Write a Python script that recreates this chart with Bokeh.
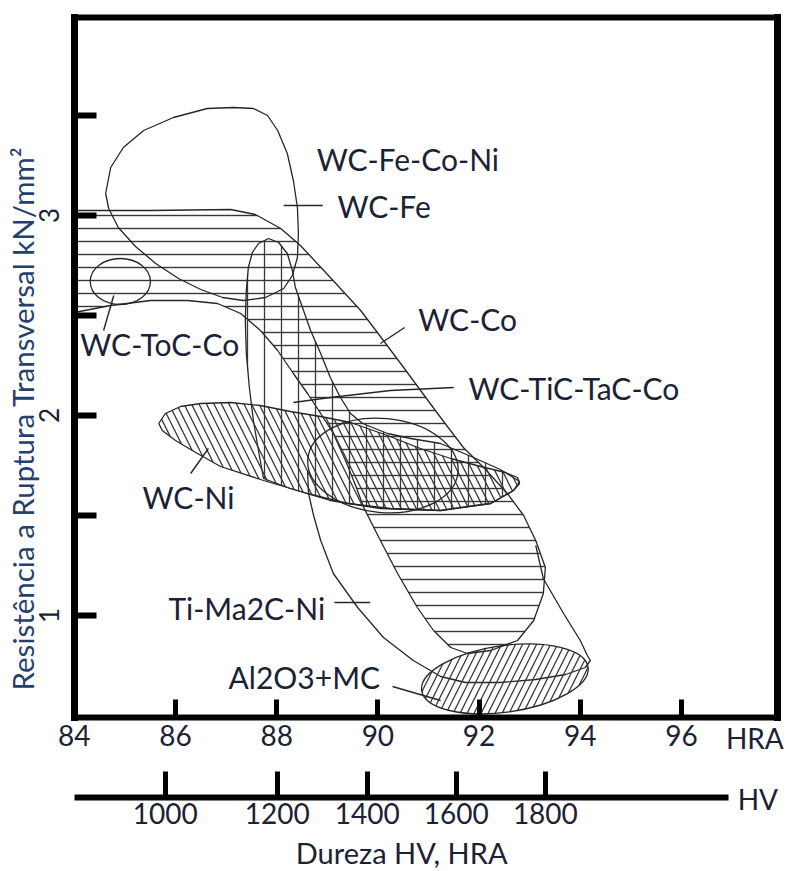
import math
from bokeh.plotting import figure
from bokeh.models import Range1d, LinearAxis, FixedTicker, Label, ColumnDataSource
from bokeh.core.properties import value
from bokeh.embed import file_html
from bokeh.resources import INLINE

FONT = "Lato"
INK = "#1b2236"
YINK = "#24406e"
LINE = "#262626"
HATCH = "#383838"

# ---------------- axes ----------------
hra_ticks = [84, 86, 88, 90, 92, 94, 96]
strength_ticks = [1, 1.5, 2, 2.5, 3, 3.5]
strength_tick_labels = ["1", "", "2", "", "3", ""]
hv_tick_labels = ["1000", "1200", "1400", "1600", "1800"]
hv_tick_hra = [85.80, 88.01, 89.79, 91.55, 93.31]

# plot box (HRA / kN/mm2)
box_hra = (84.0, 97.89)
box_strength = (0.49, 3.99)
hv_axis_at = 0.09
hv_axis_end = 96.93

# ---------------- regions (HRA, kN/mm2) ----------------
# WC-Fe-Co-Ni field (outline)
blob_x = [84.62, 84.72, 84.97, 85.37, 85.96, 86.63, 87.15, 87.54, 87.82, 88.02, 88.21, 88.33, 88.41,
          88.43, 88.41, 88.31, 88.14, 87.78, 87.34, 86.93, 86.50, 86.06, 85.61, 85.21, 84.87, 84.68]
blob_y = [3.110, 3.240, 3.340, 3.425, 3.490, 3.535, 3.540, 3.535, 3.500, 3.425, 3.310, 3.175, 3.040,
          2.910, 2.790, 2.700, 2.635, 2.590, 2.575, 2.590, 2.630, 2.685, 2.760, 2.845, 2.940, 3.035]

# WC-TaC-Co small field
taco_x = [84.91]
taco_y = [2.67]
taco_w = [1.19]
taco_h = [0.23]

# WC-Co field (horizontal hatch)
wcco_x = [84.00, 85.51, 87.09, 87.58, 88.08, 88.47, 89.06, 89.66, 90.11, 90.45, 91.18, 91.69, 92.09,
          92.56, 92.88, 93.12, 93.31, 93.27, 93.08, 92.76, 92.23, 91.77, 91.44, 91.10, 90.78, 90.39,
          90.05, 89.72, 89.56, 89.36, 89.12, 88.87, 88.61, 88.33, 88.02, 87.68, 87.29, 86.83, 86.24,
          85.51, 84.72, 84.00]
wcco_y = [3.025, 3.025, 3.030, 3.005, 2.935, 2.850, 2.690, 2.525, 2.375, 2.260, 2.010, 1.840, 1.740,
          1.610, 1.500, 1.375, 1.240, 1.110, 0.975, 0.875, 0.825, 0.810, 0.840, 0.925, 1.040, 1.210,
          1.375, 1.540, 1.650, 1.775, 1.910, 2.010, 2.110, 2.210, 2.325, 2.425, 2.510, 2.560, 2.575,
          2.575, 2.550, 2.515]

# WC-TiC-TaC-Co field (vertical hatch)
tic_x = [87.84, 87.64, 87.52, 87.44, 87.40, 87.38, 87.40, 87.46, 87.54, 87.64, 87.74, 88.27, 89.06,
         90.05, 91.24, 92.23, 92.68, 92.80, 92.42, 91.89, 91.24, 90.65, 90.19, 89.70, 89.46, 89.26,
         89.06, 88.87, 88.67, 88.51, 88.37, 88.31, 88.21, 88.04]
tic_y = [2.885, 2.860, 2.815, 2.740, 2.625, 2.475, 2.310, 2.140, 1.975, 1.825, 1.685, 1.635, 1.575,
         1.535, 1.525, 1.560, 1.625, 1.670, 1.730, 1.790, 1.860, 1.885, 1.910, 1.960, 2.010, 2.090,
         2.190, 2.310, 2.425, 2.540, 2.640, 2.725, 2.810, 2.865]

# WC-Ni field (diagonal hatch)
wcni_x = [85.67, 85.80, 86.10, 86.50, 87.09, 87.68, 88.27, 88.87, 89.46, 90.19, 90.84, 91.44, 92.03,
          92.52, 92.76, 92.80, 92.68, 92.23, 91.24, 90.25, 89.40, 88.61, 87.74, 86.89, 86.40, 86.00, 85.74]
wcni_y = [1.960, 2.010, 2.045, 2.060, 2.065, 2.050, 2.020, 1.995, 1.965, 1.900, 1.835, 1.785, 1.745,
          1.715, 1.690, 1.660, 1.625, 1.560, 1.525, 1.535, 1.560, 1.610, 1.675, 1.745, 1.815, 1.875, 1.925]

# middle oval (outline)
mid_x = [90.10]
mid_y = [1.75]
mid_w = [2.98]
mid_h = [0.47]
mid_angle = [-0.09]

# Ti-Ma2C-Ni field (outline)
tima_x = [88.61, 88.63, 88.73, 88.87, 89.12, 89.60, 90.11, 90.70, 91.24, 91.73, 92.42, 93.12, 93.71,
          94.10, 94.20, 94.14, 94.00, 93.67, 93.27, 93.12]
tima_y = [1.725, 1.610, 1.500, 1.375, 1.210, 1.040, 0.890, 0.775, 0.695, 0.665, 0.665, 0.680, 0.705,
          0.740, 0.775, 0.800, 0.875, 1.010, 1.185, 1.350]

# Al2O3+MC field (diagonal hatch)
al_x = [92.51]
al_y = [0.683]
al_w = [3.32]
al_h = [0.333]
al_angle = [0.14]

# leader lines
leader_xs = [[88.14, 88.91], [84.78, 84.58], [90.05, 90.53], [88.33, 89.06, 90.25, 91.50],
             [86.30, 86.65], [89.14, 89.85], [90.29, 91.24]]
leader_ys = [[3.05, 3.05], [2.60, 2.425], [2.36, 2.44], [2.065, 2.09, 2.125, 2.14],
             [1.71, 1.835], [1.065, 1.065], [0.645, 0.575]]

# field labels
label_text = ["WC-Fe-Co-Ni", "WC-Fe", "WC-ToC-Co", "WC-Co", "WC-TiC-TaC-Co", "WC-Ni", "Ti-Ma2C-Ni", "Al2O3+MC"]
label_x = [88.79, 89.20, 84.12, 90.80, 91.79, 85.35, 85.86, 87.05]
label_y = [3.285, 3.05, 2.36, 2.485, 2.14, 1.595, 1.04, 0.695]

# axis captions
caption_text = ["HRA", "HV", "Dureza HV, HRA"]
caption_x = [97.45, 97.51, 90.47]
caption_y = [0.39, 0.085, -0.185]
ytitle_text = "Resistência a Ruptura Transversal kN/mm²"
ytitle_x = 82.98
ytitle_y = 1.985

# ---------------- figure (frame = whole canvas, axes at fixed locations) ----------------
p = figure(width=785, height=871,
           x_range=Range1d(82.542, 98.056), y_range=Range1d(-0.28, 4.075),
           output_backend="svg", toolbar_location=None,
           x_axis_location=None, y_axis_location=None,
           min_border_left=0, min_border_right=0, min_border_top=0, min_border_bottom=0)
p.background_fill_color = "white"
p.border_fill_color = "white"
p.outline_line_color = None
try:
    p.grid.visible = False
except Exception:
    pass

label_style = dict(major_label_text_font=FONT, major_label_text_font_size="28px",
                   major_label_text_color=INK, minor_tick_line_color=None)

ax_hra = LinearAxis(ticker=FixedTicker(ticks=hra_ticks), fixed_location=box_strength[0], bounds=box_hra,
                    axis_line_width=6, axis_line_color="black", axis_line_cap="square",
                    major_tick_in=18, major_tick_out=0, major_tick_line_width=5,
                    major_label_standoff=7, **label_style)
p.add_layout(ax_hra, "below")

ax_hv = LinearAxis(ticker=FixedTicker(ticks=hv_tick_hra), fixed_location=hv_axis_at,
                   major_label_overrides=dict(zip(hv_tick_hra, hv_tick_labels)),
                   bounds=(box_hra[0], hv_axis_end),
                   axis_line_width=6, axis_line_color="black",
                   major_tick_in=26, major_tick_out=0, major_tick_line_width=5,
                   major_label_standoff=5, **label_style)
p.add_layout(ax_hv, "below")

ax_y = LinearAxis(ticker=FixedTicker(ticks=strength_ticks), fixed_location=box_hra[0], bounds=box_strength,
                  major_label_overrides=dict(zip(strength_ticks, strength_tick_labels)),
                  major_label_orientation="vertical",
                  axis_line_width=7, axis_line_color="black", axis_line_cap="square",
                  major_tick_in=22, major_tick_out=0, major_tick_line_width=6,
                  major_label_standoff=15,
                  major_label_text_font=FONT, major_label_text_font_size="26px",
                  major_label_text_color=INK, minor_tick_line_color=None)
p.add_layout(ax_y, "left")

ax_top = LinearAxis(ticker=FixedTicker(ticks=[]), fixed_location=box_strength[1], bounds=box_hra,
                    axis_line_width=6, axis_line_color="black", axis_line_cap="square",
                    major_tick_line_color=None, minor_tick_line_color=None,
                    major_label_text_font_size="0px")
p.add_layout(ax_top, "above")

ax_right = LinearAxis(ticker=FixedTicker(ticks=[]), fixed_location=box_hra[1], bounds=box_strength,
                      axis_line_width=7, axis_line_color="black", axis_line_cap="square",
                      major_tick_line_color=None, minor_tick_line_color=None,
                      major_label_text_font_size="0px")
p.add_layout(ax_right, "right")

# ---------------- fields ----------------
common = dict(fill_alpha=0, line_color=LINE, line_width=1.3, hatch_color=HATCH, hatch_alpha=1.0)

p.patch(wcco_x, wcco_y, hatch_pattern="-", hatch_scale=13, hatch_weight=1.4, **common)
p.patch(tic_x, tic_y, hatch_pattern="|", hatch_scale=17, hatch_weight=1.3, **common)
p.patch(wcni_x, wcni_y, hatch_pattern="\\", hatch_scale=15, hatch_weight=1.3, **common)
p.patch(blob_x, blob_y, fill_alpha=0, line_color=LINE, line_width=1.3)
p.ellipse(x=taco_x, y=taco_y, width=taco_w, height=taco_h, fill_alpha=0, line_color=LINE, line_width=1.3)
p.ellipse(x=mid_x, y=mid_y, width=mid_w, height=mid_h, angle=mid_angle,
          fill_alpha=0, line_color=LINE, line_width=1.3)
p.line(tima_x, tima_y, line_color=LINE, line_width=1.3)
p.ellipse(x=al_x, y=al_y, width=al_w, height=al_h, angle=al_angle,
          hatch_pattern="/", hatch_scale=14, hatch_weight=1.3, **common)

p.multi_line(leader_xs, leader_ys, line_color=LINE, line_width=1.4)

src = ColumnDataSource(dict(x=label_x, y=label_y, t=label_text))
p.text(x="x", y="y", text="t", source=src, text_font=value(FONT), text_font_size=value("30px"),
       text_color=INK, text_align="left", text_baseline="middle")

for t, cx, cy in zip(caption_text, caption_x, caption_y):
    p.add_layout(Label(x=cx, y=cy, text=t, text_font=FONT,
                       text_font_size="29px" if len(t) > 3 else "28px",
                       text_color=INK, text_align="center", text_baseline="middle"))
p.add_layout(Label(x=ytitle_x, y=ytitle_y, text=ytitle_text, angle=math.pi / 2,
                   text_font=FONT, text_font_size="29.5px",
                   text_color=YINK, text_align="center", text_baseline="middle"))

open("out.html", "w").write(file_html(p, INLINE))
